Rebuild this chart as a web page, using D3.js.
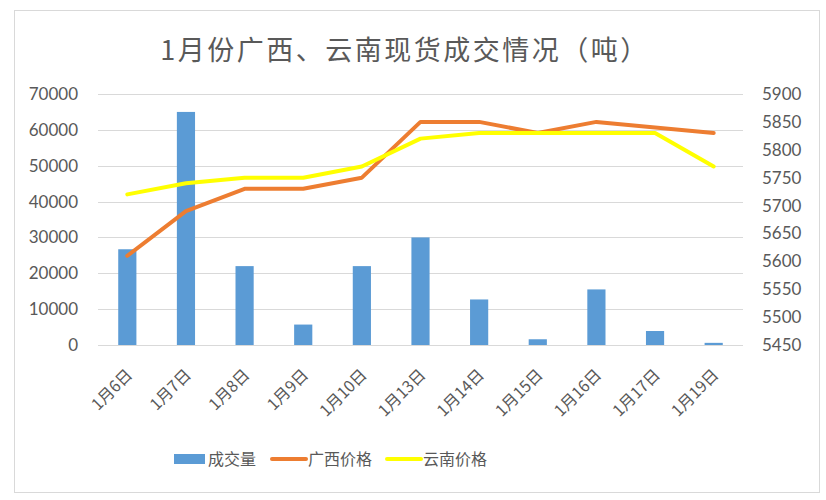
<!DOCTYPE html>
<html>
<head>
<meta charset="utf-8">
<script src="https://cdn.jsdelivr.net/npm/d3@7"></script>
<style>
  body { margin: 0; background: #fff; }
  text { fill: #595959; }
</style>
</head>
<body>
<div id="chart"></div>
<script>
// data
const dates = ["1月6日", "1月7日", "1月8日", "1月9日", "1月10日", "1月13日", "1月14日", "1月15日", "1月16日", "1月17日", "1月19日"]
const volume = [26700, 65000, 22000, 5700, 22000, 30000, 12700, 1600, 15500, 3900, 600]
const guangxi = [5610, 5690, 5730, 5730, 5750, 5850, 5850, 5830, 5850, 5840, 5830]
const yunnan = [5720, 5740, 5750, 5750, 5770, 5820, 5830, 5830, 5830, 5830, 5770]
const leftTicks = [0, 10000, 20000, 30000, 40000, 50000, 60000, 70000]
const rightTicks = [5450, 5500, 5550, 5600, 5650, 5700, 5750, 5800, 5850, 5900]

const W = 826, H = 500
const margin = {top: 94, left: 98, right: 83, bottom: 155}
const numFont = "Lato, 'Noto Sans CJK SC', sans-serif"
const cjkFont = "'Noto Sans CJK SC', sans-serif"

const svg = d3.select("#chart")
  .append("svg")
    .attr("width", W)
    .attr("height", H)

// outer frame
svg.append("rect")
    .attr("x", 14.5).attr("y", 10.5)
    .attr("width", 805).attr("height", 482)
    .attr("fill", "#fff")
    .attr("stroke", "#d9d9d9")

const x = d3.scaleBand()
    .domain(dates)
    .range([margin.left, W - margin.right])
    .paddingInner(0.69)
    .paddingOuter(0.345)

const xc = d3.scaleBand()
    .domain(dates)
    .range([margin.left, W - margin.right])

const yL = d3.scaleLinear()
    .domain([0, 70000])
    .range([H - margin.bottom, margin.top])

const yR = d3.scaleLinear()
    .domain([5450, 5900])
    .range([H - margin.bottom, margin.top])

// gridlines
svg.append("g")
  .selectAll("line")
  .data(leftTicks)
  .join("line")
    .attr("x1", margin.left)
    .attr("x2", W - margin.right)
    .attr("y1", d => Math.round(yL(d)) + 0.5)
    .attr("y2", d => Math.round(yL(d)) + 0.5)
    .attr("stroke", "#d9d9d9")
    .attr("stroke-width", 1)

// left axis labels
svg.append("g")
  .selectAll("text")
  .data(leftTicks)
  .join("text")
    .attr("x", 78)
    .attr("y", d => yL(d))
    .attr("dy", "0.35em")
    .attr("text-anchor", "end")
    .style("font-family", numFont)
    .style("font-size", "17px")
    .text(d => d)

// right axis labels
svg.append("g")
  .selectAll("text")
  .data(rightTicks)
  .join("text")
    .attr("x", W - margin.right + 19)
    .attr("y", d => yR(d))
    .attr("dy", "0.35em")
    .attr("text-anchor", "start")
    .style("font-family", numFont)
    .style("font-size", "17px")
    .text(d => d)

// bars
svg.append("g")
  .selectAll("rect")
  .data(volume)
  .join("rect")
    .attr("x", (d, i) => x(dates[i]))
    .attr("width", x.bandwidth())
    .attr("y", d => yL(d))
    .attr("height", d => yL(0) - yL(d))
    .attr("fill", "#5b9bd5")

// price lines
const line = d3.line()
    .x((d, i) => xc(dates[i]) + xc.bandwidth() / 2)
    .y(d => yR(d))

svg.append("path")
    .datum(guangxi)
    .attr("d", line)
    .attr("fill", "none")
    .attr("stroke", "#ed7d31")
    .attr("stroke-width", 4)
    .attr("stroke-linejoin", "round")
    .attr("stroke-linecap", "round")

svg.append("path")
    .datum(yunnan)
    .attr("d", line)
    .attr("fill", "none")
    .attr("stroke", "#ffff00")
    .attr("stroke-width", 4)
    .attr("stroke-linejoin", "round")
    .attr("stroke-linecap", "round")

// x labels, rotated
svg.append("g")
  .selectAll("text")
  .data(dates)
  .join("text")
    .attr("transform", d => `translate(${xc(d) + xc.bandwidth() / 2 + 6},${H - margin.bottom + 31}) rotate(-45)`)
    .attr("text-anchor", "end")
    .style("font-family", cjkFont)
    .style("font-size", "16px")
    .text(d => d)

// title
svg.append("text")
    .attr("x", 405)
    .attr("y", 60)
    .attr("text-anchor", "middle")
    .style("font-family", cjkFont)
    .style("font-size", "27px")
    .style("letter-spacing", "2.5px")
    .text("1月份广西、云南现货成交情况（吨）")

// legend
const legend = [
  {name: "成交量", color: "#5b9bd5", type: "rect", x: 174},
  {name: "广西价格", color: "#ed7d31", type: "line", x: 272},
  {name: "云南价格", color: "#ffff00", type: "line", x: 387}
]
const lg = svg.append("g")
  .selectAll("g")
  .data(legend)
  .join("g")
    .attr("transform", d => `translate(${d.x},459)`)

lg.filter(d => d.type === "rect")
  .append("rect")
    .attr("x", 0).attr("y", -5)
    .attr("width", 31).attr("height", 10)
    .attr("fill", d => d.color)

lg.filter(d => d.type === "line")
  .append("line")
    .attr("x1", 0).attr("x2", 34)
    .attr("stroke", d => d.color)
    .attr("stroke-width", 4)
    .attr("stroke-linecap", "round")

lg.append("text")
    .attr("x", d => d.type === "rect" ? 34 : 36)
    .attr("dy", "0.35em")
    .style("font-family", cjkFont)
    .style("font-size", "16px")
    .text(d => d.name)
</script>
</body>
</html>
